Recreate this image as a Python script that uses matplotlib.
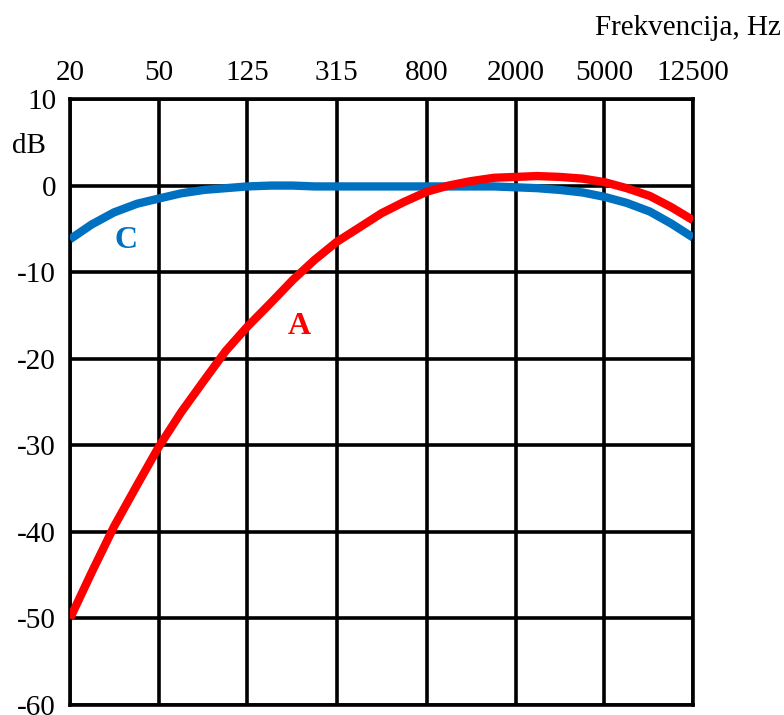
import matplotlib
matplotlib.use("Agg")
import matplotlib.pyplot as plt
from matplotlib.ticker import NullLocator, FixedLocator, FixedFormatter

plt.rcParams['font.family'] = ['Liberation Serif', 'DejaVu Serif']

# 1/3-octave band centres (Hz) and weighting curves
freqs = [20, 25, 31.5, 40, 50, 63, 80, 100, 125, 160, 200, 250, 315, 400, 500,
         630, 800, 1000, 1250, 1600, 2000, 2500, 3150, 4000, 5000, 6300, 8000,
         10000, 12500]
a_weight = [-50.0, -44.7, -39.4, -34.6, -30.2, -26.2, -22.5, -19.1, -16.3, -13.5,
            -10.9, -8.6, -6.5, -4.8, -3.2, -1.9, -0.7, 0.0, 0.5, 0.9, 1.0, 1.1,
            1.0, 0.8, 0.4, -0.3, -1.2, -2.5, -4.0]
c_weight = [-6.2, -4.5, -3.1, -2.1, -1.5, -0.9, -0.5, -0.3, -0.1, 0.0, 0.0, -0.1,
            -0.1, -0.1, -0.1, -0.1, -0.1, -0.1, -0.1, -0.1, -0.2, -0.3, -0.5,
            -0.8, -1.3, -2.0, -3.0, -4.4, -6.0]

tick_freqs = [20, 50, 125, 315, 800, 2000, 5000, 12500]
tick_labels = ['20', '50', '125', '315', '800', '2000', '5000', '12500']
y_ticks = [10, 0, -10, -20, -30, -40, -50, -60]

fig = plt.figure(figsize=(7.84, 7.15), dpi=100)
ax = fig.add_axes([70 / 784, 1 - 705 / 715, 623 / 784, 606 / 715])

ax.set_xscale('log')
ax.set_xlim(20, 12500)
ax.set_ylim(-60, 10)

ax.plot(freqs, c_weight, color='#0070C0', linewidth=6, solid_capstyle='butt',
        solid_joinstyle='round', zorder=3)
ax.plot(freqs, a_weight, color='#FF0000', linewidth=6, solid_capstyle='butt',
        solid_joinstyle='round', zorder=4)

ax.xaxis.set_major_locator(FixedLocator(tick_freqs))
ax.xaxis.set_major_formatter(FixedFormatter(tick_labels))
ax.xaxis.set_minor_locator(NullLocator())
ax.set_yticks(y_ticks)
ax.set_yticklabels([str(v) for v in y_ticks])

ax.xaxis.tick_top()
ax.tick_params(axis='both', length=0, labelsize=21)
ax.tick_params(axis='x', pad=9)
ax.tick_params(axis='y', pad=10)

ax.grid(True, color='black', linewidth=2.6, zorder=1)
for s in ax.spines.values():
    s.set_linewidth(2.6)
    s.set_color('black')

ax.text(126 / 784, 1 - 241 / 715, 'C', transform=fig.transFigure, color='#0070C0',
        fontsize=23, fontweight='bold', ha='center', va='center')
ax.text(299 / 784, 1 - 326 / 715, 'A', transform=fig.transFigure, color='#FF0000',
        fontsize=23, fontweight='bold', ha='center', va='center')

fig.text(29 / 784, 1 - 146 / 715, 'dB', fontsize=21, ha='center', va='center')
fig.text(781 / 784, 1 - 28 / 715, 'Frekvencija, Hz', fontsize=21, ha='right', va='center')

fig.savefig('out.png', dpi=100)
